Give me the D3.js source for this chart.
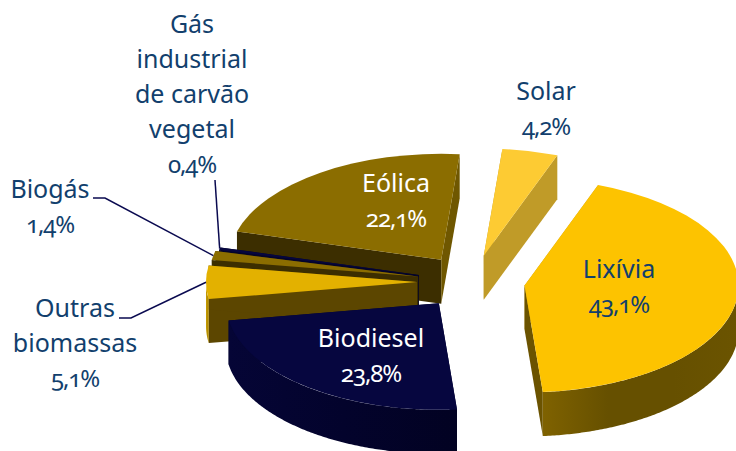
<!DOCTYPE html>
<html>
<head>
<meta charset="utf-8">
<script src="https://cdn.jsdelivr.net/npm/d3@7"></script>
<style>
  html, body { margin: 0; padding: 0; background: #fff; }
  text { font-family: "Noto Sans", "Open Sans", sans-serif; font-size: 25px; font-variant-numeric: oldstyle-nums; }
  .pct { font-size: 24px; letter-spacing: -1.1px; }
</style>
</head>
<body>
<div id="root"></div>
<script>
  // chart values, clockwise from the Solar slice
  var categories = ['Solar', 'Lixívia', 'Biodiesel', 'Outras biomassas', 'Biogás', 'Gás industrial de carvão vegetal', 'Eólica'];
  var values = [4.2, 43.1, 23.8, 5.1, 1.4, 0.4, 22.1];
  var valueLabels = ['4,2%', '43,1%', '23,8%', '5,1%', '1,4%', '0,4%', '22,1%'];

  var width = 736;
  var height = 451;

  // pie geometry
  var cx = 472;
  var cy = 282;
  var tilt = 0.5;
  var depth = 44;
  var startDeg = 5;
  var radii = [214, 214, 213, 211, 209, 206, 212];
  var explode = [54, 53, 54, 55, 55, 55, 54];

  // top face, wall along the start edge, wall along the end edge
  var topColors = ['#fdcb33', '#fdc300', '#06063f', '#e3b100', '#8b6d00', '#06063f', '#8b6d00'];
  var startWalls = ['#c09b28', '#c09b28', '#05052f', '#5c4600', '#3c2e00', '#04042a', '#3c2e00'];
  var endWalls = ['#c09b28', '#6b5300', '#05052f', '#5c4600', '#3c2e00', '#04042a', '#6f5700'];
  // rim gradient, left to right
  var rimStops = [
    ['#c09b28', '#c09b28'],
    ['#7f6200', '#665000', '#665000', '#6b5400'],
    ['#050536', '#03032c', '#020222'],
    ['#c79c00', '#a88400'],
    ['#3c2e00', '#3c2e00'],
    ['#04042a', '#04042a'],
    ['#3c2e00', '#3c2e00']
  ];

  // label lines and where each block sits
  var labelLines = [
    ['Solar'], ['Lixívia'], ['Biodiesel'], ['Outras', 'biomassas'], ['Biogás'],
    ['Gás', 'industrial', 'de carvão', 'vegetal'], ['Eólica']
  ];
  var labelX = [546, 619, 371, 75, 50, 192, 396];
  var labelY = [100, 278, 347, 317, 198, 33, 192];
  var labelColors = ['#123f6d', '#123f6d', '#fff', '#123f6d', '#123f6d', '#123f6d', '#fff'];
  var lineStep = 35;

  // leader lines: slice index, then the start and elbow next to the label
  var leaders = [
    { slice: 5, from: [[215, 180]] },
    { slice: 4, from: [[93, 198], [105, 198]] },
    { slice: 3, from: [[119, 318], [131, 318]] }
  ];

  var pie = d3.pie()
    .sort(null)
    .startAngle(startDeg * Math.PI / 180)
    .endAngle((startDeg + 360) * Math.PI / 180);

  var slices = pie(values).map(function(d, i) {
    var mid = (d.startAngle + d.endAngle) / 2;
    d.index = i;
    d.ax = cx + explode[i] * Math.sin(mid);
    d.ay = cy - explode[i] * tilt * Math.cos(mid);
    return d;
  });

  function rimPoint(d, a) {
    var r = radii[d.index];
    return [d.ax + r * Math.sin(a), d.ay - r * tilt * Math.cos(a)];
  }

  var svg = d3.select('#root')
    .append('svg')
      .attr('width', width)
      .attr('height', height)
      .style('display', 'block');

  var defs = svg.append('defs');
  rimStops.forEach(function(stops, i) {
    var grad = defs.append('linearGradient').attr('id', 'rim' + i);
    stops.forEach(function(c, j) {
      grad.append('stop')
        .attr('offset', j / (stops.length - 1))
        .attr('stop-color', c);
    });
  });

  var arc = d3.arc().innerRadius(0);
  var wallArea = d3.area()
    .x(function(p) { return p[0]; })
    .y0(function(p) { return p[1]; })
    .y1(function(p) { return p[1] + depth; });

  function drawWall(g, d, angle, color) {
    g.append('path')
      .attr('d', wallArea([[d.ax, d.ay], rimPoint(d, angle)]))
      .attr('fill', color);
  }

  // paint from the back of the pie to the front
  var paintOrder = [6, 5, 4, 3, 0, 1, 2];
  paintOrder.forEach(function(i) {
    var d = slices[i];
    var g = svg.append('g');
    drawWall(g, d, d.startAngle, startWalls[i]);
    drawWall(g, d, d.endAngle, endWalls[i]);

    // outer rim only shows on the front half
    var a0 = Math.max(d.startAngle, Math.PI / 2);
    var a1 = Math.min(d.endAngle, Math.PI * 1.5);
    if (a1 > a0) {
      var pts = d3.range(a0, a1, 0.01).concat([a1]).map(function(a) { return rimPoint(d, a); });
      g.append('path')
        .attr('d', wallArea(pts))
        .attr('fill', 'url(#rim' + i + ')');
    }

    g.append('path')
      .attr('d', arc.outerRadius(radii[i])(d))
      .attr('transform', 'translate(' + d.ax + ',' + d.ay + ') scale(1,' + tilt + ')')
      .attr('fill', topColors[i]);
  });

  var line = d3.line();
  leaders.forEach(function(l) {
    var d = slices[l.slice];
    var mid = (d.startAngle + d.endAngle) / 2;
    svg.append('path')
      .attr('d', line(l.from.concat([rimPoint(d, mid)])))
      .attr('fill', 'none')
      .attr('stroke', '#0a0a50')
      .attr('stroke-width', 1.5);
  });

  categories.forEach(function(name, i) {
    var lines = labelLines[i].concat([valueLabels[i]]);
    svg.append('text')
      .attr('fill', labelColors[i])
      .attr('text-anchor', 'middle')
      .selectAll('tspan')
      .data(lines)
      .enter()
      .append('tspan')
        .attr('class', function(t, j) { return j === lines.length - 1 ? 'pct' : null; })
        .attr('x', labelX[i])
        .attr('y', function(t, j) { return labelY[i] + j * lineStep; })
        .text(function(t) { return t; });
  });
</script>
</body>
</html>
